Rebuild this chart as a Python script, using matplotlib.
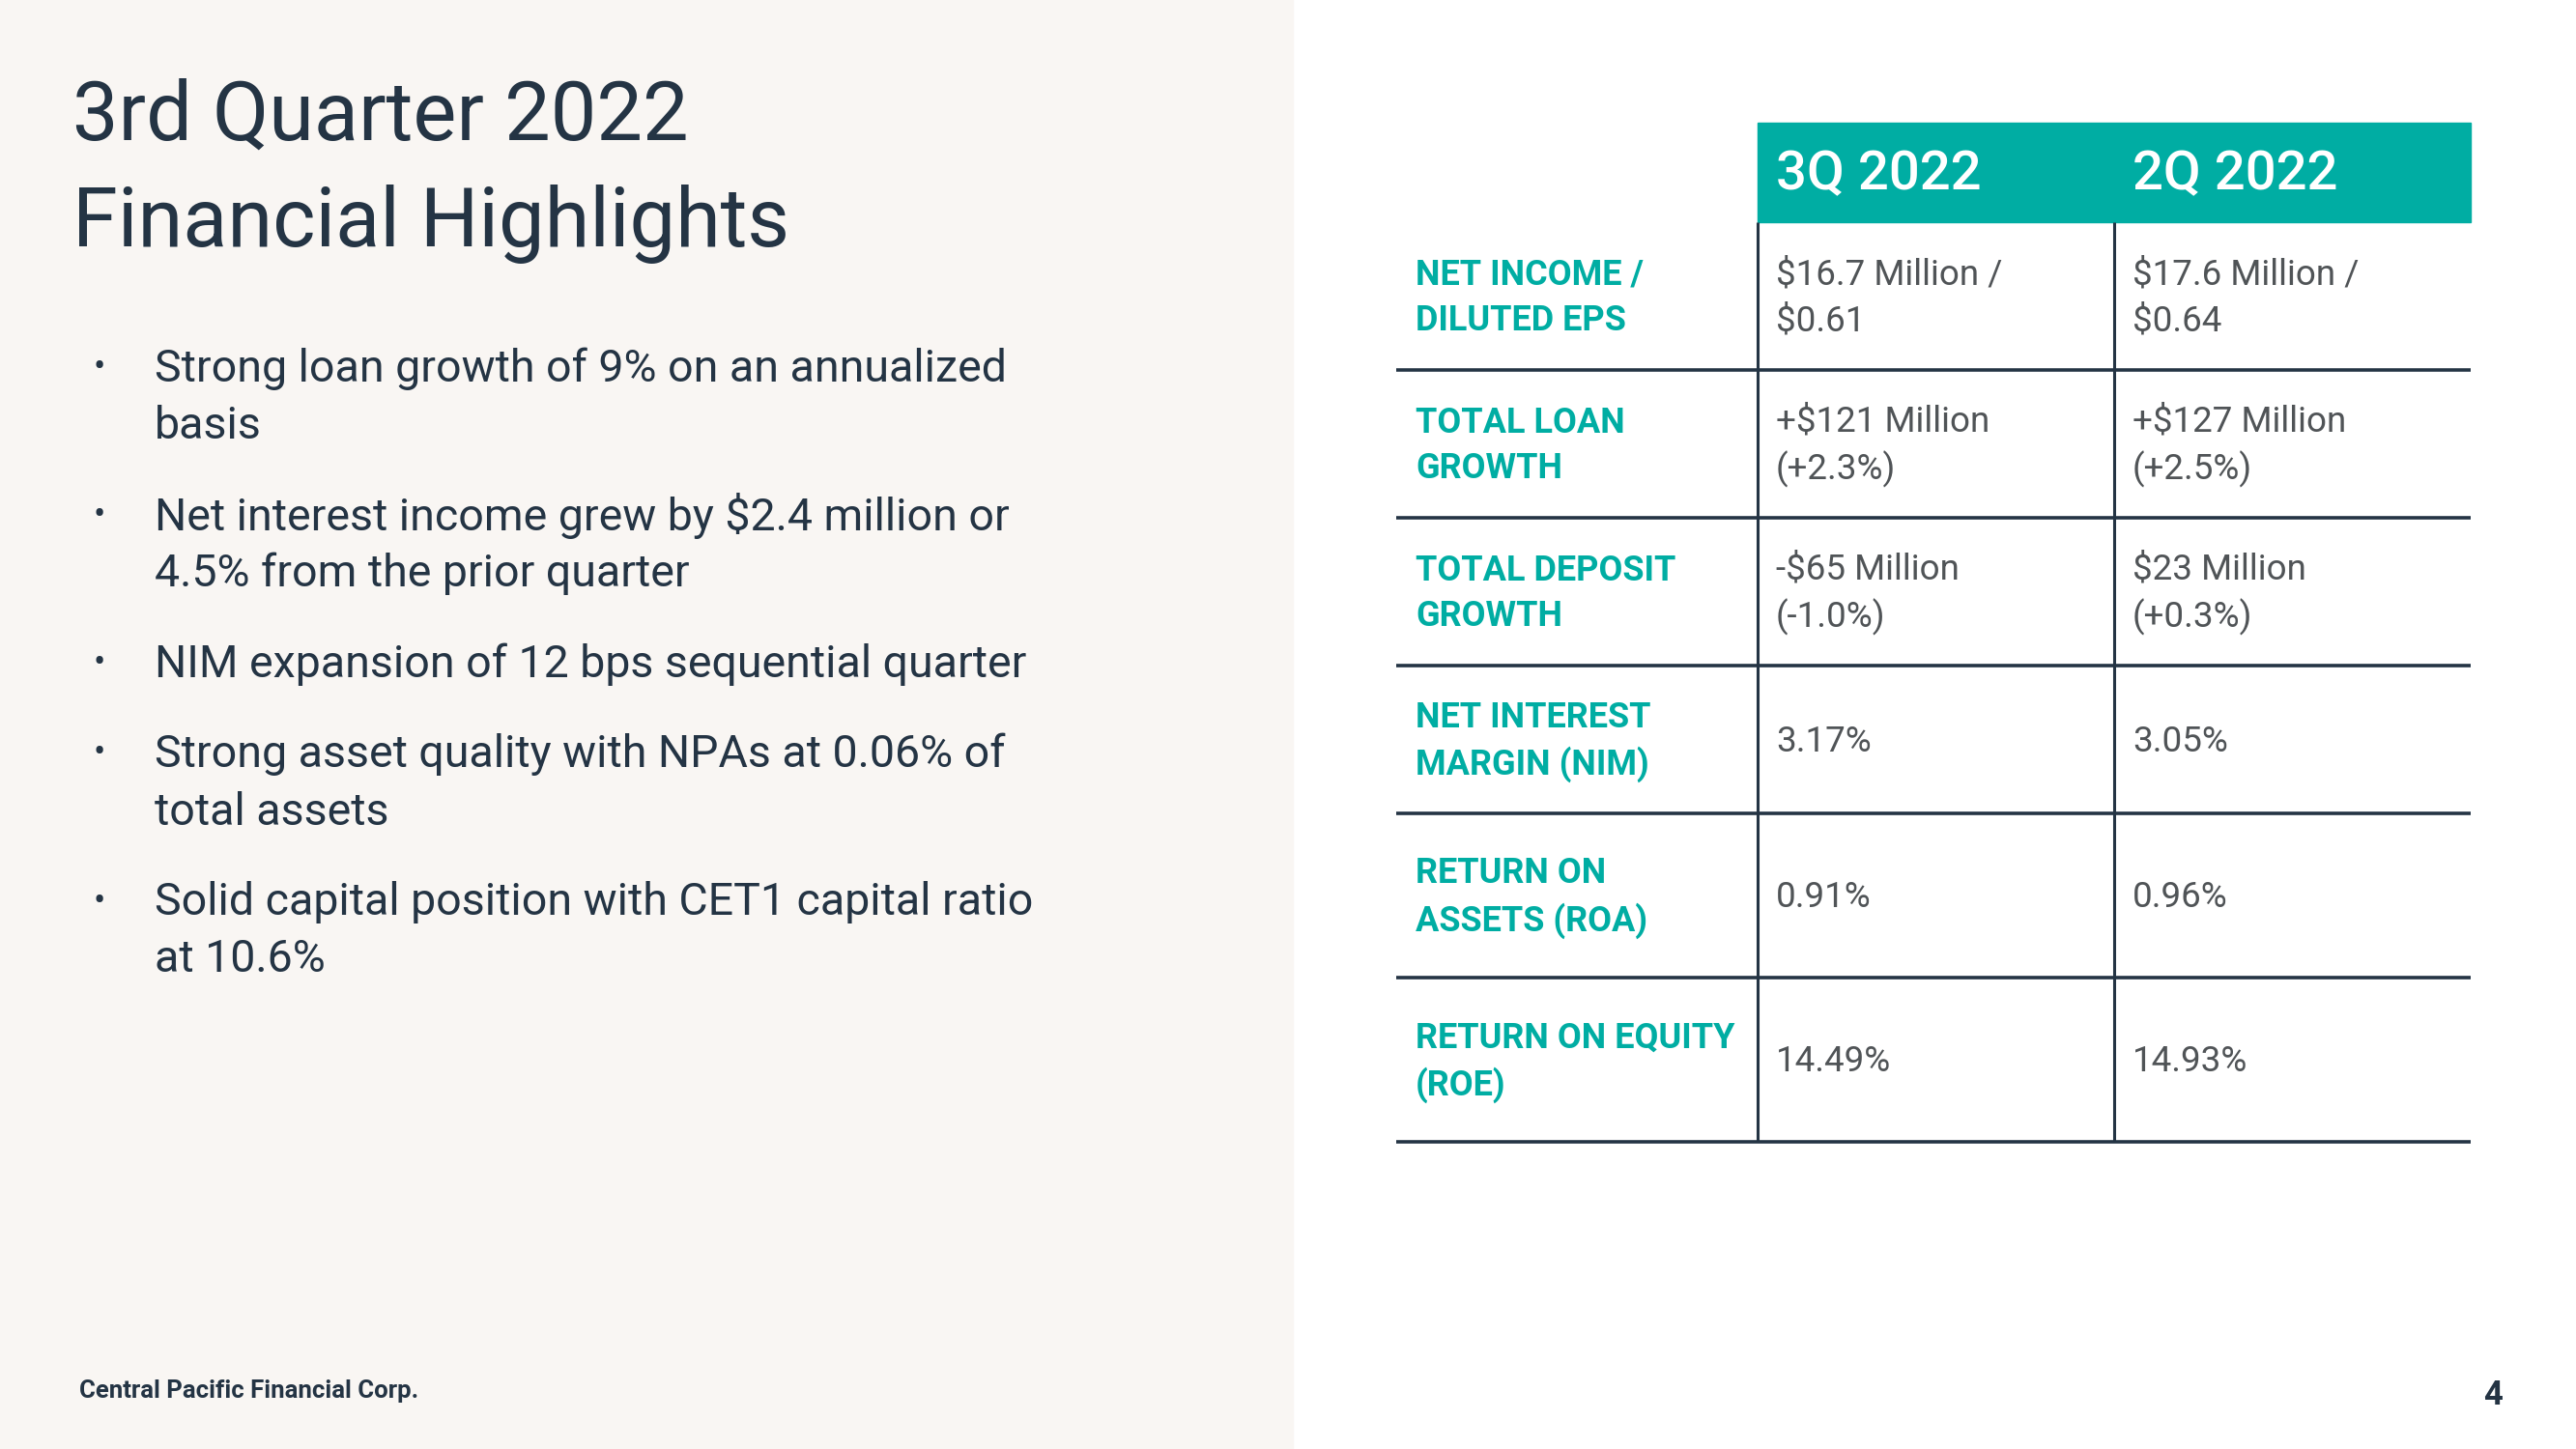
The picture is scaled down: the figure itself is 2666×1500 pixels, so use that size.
import matplotlib
matplotlib.use("Agg")
from matplotlib import pyplot as plt
from matplotlib.patches import Rectangle

plt.rcParams['font.family'] = ['Roboto', 'DejaVu Sans']

title_lines = ["3rd Quarter 2022", "Financial Highlights"]
bullets = [
    ["Strong loan growth of 9% on an annualized", "basis"],
    ["Net interest income grew by $2.4 million or", "4.5% from the prior quarter"],
    ["NIM expansion of 12 bps sequential quarter"],
    ["Strong asset quality with NPAs at 0.06% of", "total assets"],
    ["Solid capital position with CET1 capital ratio", "at 10.6%"],
]
columns = ["3Q 2022", "2Q 2022"]
row_labels = ["NET INCOME /\nDILUTED EPS", "TOTAL LOAN\nGROWTH", "TOTAL DEPOSIT\nGROWTH",
              "NET INTEREST\nMARGIN (NIM)", "RETURN ON\nASSETS (ROA)", "RETURN ON EQUITY\n(ROE)"]
q3_values = ["$16.7 Million /\n$0.61", "+$121 Million\n(+2.3%)", "-$65 Million\n(-1.0%)",
             "3.17%", "0.91%", "14.49%"]
q2_values = ["$17.6 Million /\n$0.64", "+$127 Million\n(+2.5%)", "$23 Million\n(+0.3%)",
             "3.05%", "0.96%", "14.93%"]
footer = "Central Pacific Financial Corp."
page = "4"

navy = "#243444"
teal = "#00ada3"
gray = "#505457"

fig = plt.figure(figsize=(26.66, 15), dpi=100)
ax = fig.add_axes([0, 0, 1, 1])
ax.set_xlim(0, 2666)
ax.set_ylim(1500, 0)
ax.axis('off')

# left panel
ax.add_patch(Rectangle((0, 0), 1338, 1500, color="#f9f6f3", zorder=0))

# title
for i, t in enumerate(title_lines):
    ax.text(75, 145 + i * 110, t, fontsize=61, color=navy, va='baseline', ha='left')

# bullets
y = 377
for b in bullets:
    ax.text(103, y, "\u2022", fontsize=26, color=navy, va='center_baseline', ha='center')
    for j, line in enumerate(b):
        ax.text(160, y + j * 59.5, line, fontsize=33.5, color=navy, va='center_baseline', ha='left')
    y += len(b) * 59.5 + 34

# table
left, c1, c2, right = 1445, 1819, 2188, 2557
head_top, head_bot = 127, 230
row_edges = [230, 383, 536, 689, 842, 1012, 1182]

ax.add_patch(Rectangle((c1, head_top), right - c1, head_bot - head_top, color=teal, zorder=1))
for x, name in zip([c1, c2], columns):
    ax.text(x + 19, (head_top + head_bot) / 2 + 2, name, fontsize=40.5, color='white',
            fontweight='medium', va='center', ha='left')

for x in [c1, c2]:
    ax.plot([x, x], [head_bot, row_edges[-1]], color=navy, lw=2.2, solid_capstyle='butt')
for yy in row_edges[1:]:
    ax.plot([left, right], [yy, yy], color=navy, lw=2.6, solid_capstyle='butt')

for i, (lab, v3, v2) in enumerate(zip(row_labels, q3_values, q2_values)):
    yc = (row_edges[i] + row_edges[i + 1]) / 2 + 2
    ax.text(left + 20, yc, lab, fontsize=26, color=teal, fontweight='bold',
            va='center', ha='left', linespacing=1.4)
    ax.text(c1 + 19, yc, v3, fontsize=26.5, color=gray, va='center', ha='left', linespacing=1.4)
    ax.text(c2 + 19, yc, v2, fontsize=26.5, color=gray, va='center', ha='left', linespacing=1.4)

ax.text(82, 1440, footer, fontsize=18.5, color=navy, fontweight='bold', va='center', ha='left')
ax.text(2590, 1445, page, fontsize=25, color=navy, fontweight='bold', va='center', ha='right')

fig.savefig("out.png", dpi=100)
